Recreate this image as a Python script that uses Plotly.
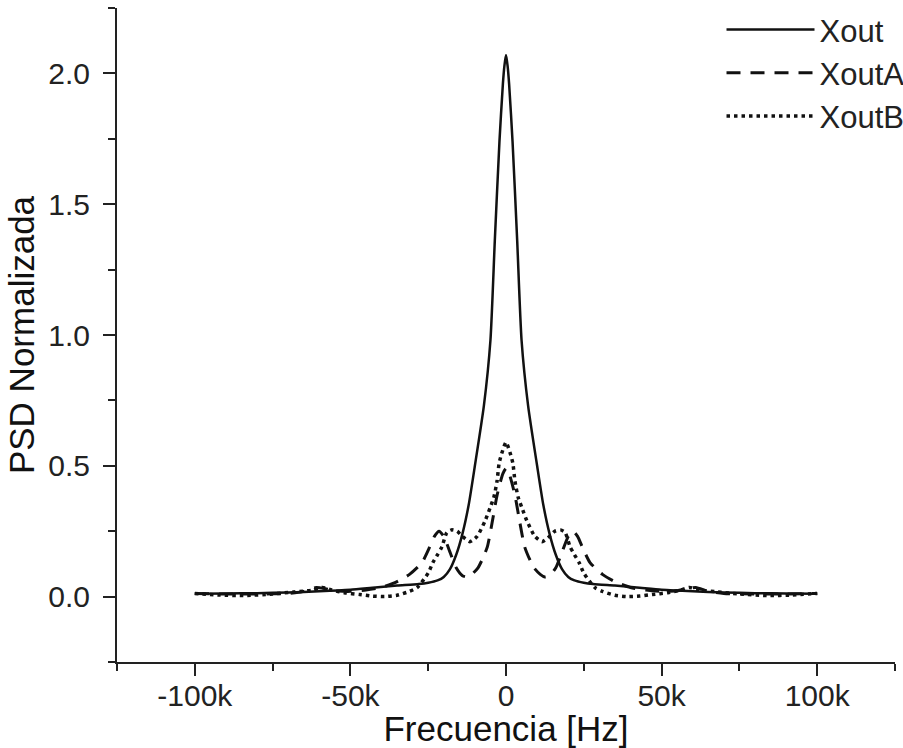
import plotly.graph_objects as go

# Frequency in kHz (symmetric spectra)
freq_out_half = [0, 0.5, 1, 2.1, 3.6, 5, 7.1, 10, 12, 14, 16, 18, 20, 22, 25, 28, 35, 42, 50, 60, 70, 80, 90, 100]
xout_half = [2.07, 2.03, 1.96, 1.74, 1.36, 0.98, 0.73, 0.50, 0.35, 0.24, 0.16, 0.105, 0.075, 0.062, 0.053, 0.048, 0.042, 0.035, 0.026, 0.02, 0.016, 0.013, 0.012, 0.011]

freq_a_half = [0, 1, 2, 3, 4.5, 6, 7.7, 9, 11, 12.5, 14, 16, 18, 20, 21.5, 23, 24.5, 27, 31, 35, 40, 45, 50, 55, 58, 61, 65, 70, 80, 90, 100]
xouta_half = [0.49, 0.47, 0.43, 0.38, 0.28, 0.19, 0.14, 0.11, 0.085, 0.075, 0.08, 0.11, 0.17, 0.23, 0.25, 0.23, 0.19, 0.13, 0.085, 0.057, 0.035, 0.025, 0.02, 0.022, 0.03, 0.035, 0.02, 0.012, 0.01, 0.01, 0.012]

freq_b_half = [0, 1.3, 2.2, 2.9, 3.9, 5.1, 6.7, 9.3, 11.6, 14, 15.7, 17.5, 19, 20.6, 22, 23.5, 25, 28.5, 31, 35, 39, 43, 47, 52, 56, 59, 62, 68, 75, 84, 92, 100]
xoutb_half = [0.59, 0.55, 0.51, 0.44, 0.38, 0.34, 0.29, 0.23, 0.21, 0.23, 0.25, 0.255, 0.245, 0.19, 0.16, 0.13, 0.09, 0.035, 0.02, 0.005, 0.0, 0.002, 0.008, 0.015, 0.025, 0.035, 0.025, 0.018, 0.01, 0.004, 0.006, 0.012]

tick_vals = [-100000, -50000, 0, 50000, 100000]
tick_text = ["-100k", "-50k", "0", "50k", "100k"]


def mirror(fh, vh):
    xs = [-f * 1000 for f in reversed(fh[1:])] + [f * 1000 for f in fh]
    ys = list(reversed(vh[1:])) + list(vh)
    return xs, ys


x0, y0 = mirror(freq_out_half, xout_half)
xa, ya = mirror(freq_a_half, xouta_half)
xb, yb = mirror(freq_b_half, xoutb_half)

fig = go.Figure()
fig.add_trace(go.Scatter(x=x0, y=y0, mode="lines", name="Xout",
                         line=dict(color="#111111", width=2.5, shape="spline", smoothing=0.6)))
fig.add_trace(go.Scatter(x=xa, y=ya, mode="lines", name="XoutA",
                         line=dict(color="#111111", width=3, dash="14px,10px", shape="spline", smoothing=0.6)))
fig.add_trace(go.Scatter(x=xb, y=yb, mode="lines", name="XoutB",
                         line=dict(color="#111111", width=3.5, dash="3.5px,4px", shape="spline", smoothing=0.6)))

font_family = "Liberation Sans, Arial, sans-serif"
fig.update_layout(
    width=903, height=748,
    margin=dict(l=117, r=8, t=8, b=86, autoexpand=False),
    paper_bgcolor="white", plot_bgcolor="white",
    font=dict(family=font_family, color="#222222", size=30),
    showlegend=True,
    legend=dict(x=0.777, y=1.008, xanchor="left", yanchor="top",
                bgcolor="rgba(0,0,0,0)", font=dict(size=31, color="#222222"),
                itemwidth=88, tracegroupgap=0),
)
fig.update_xaxes(
    range=[-125000, 125000], showgrid=False, zeroline=False,
    showline=True, linecolor="#222222", linewidth=2,
    ticks="outside", ticklen=12, tickwidth=2, tickcolor="#222222",
    tickvals=tick_vals, ticktext=tick_text, ticklabelstandoff=-6,
    tickfont=dict(size=30, color="#222222"),
    minor=dict(ticks="outside", ticklen=7, tickwidth=2, tickcolor="#222222", dtick=25000, showgrid=False),
    title=dict(text="Frecuencia [Hz]", font=dict(size=35, color="#111111"), standoff=8),
)
fig.update_yaxes(
    range=[-0.25, 2.25], showgrid=False, zeroline=False,
    showline=True, linecolor="#222222", linewidth=2,
    ticks="outside", ticklen=12, tickwidth=2, tickcolor="#222222",
    tickvals=[0, 0.5, 1.0, 1.5, 2.0], ticktext=["0.0", "0.5", "1.0", "1.5", "2.0"],
    ticklabelstandoff=7,
    tickfont=dict(size=30, color="#222222"),
    minor=dict(ticks="outside", ticklen=7, tickwidth=2, tickcolor="#222222", tickvals=[-0.25, 0.25, 0.75, 1.25, 1.75, 2.25], showgrid=False),
    title=dict(text="PSD Normalizada", font=dict(size=35, color="#111111"), standoff=3),
)

fig.write_html("out.html")
